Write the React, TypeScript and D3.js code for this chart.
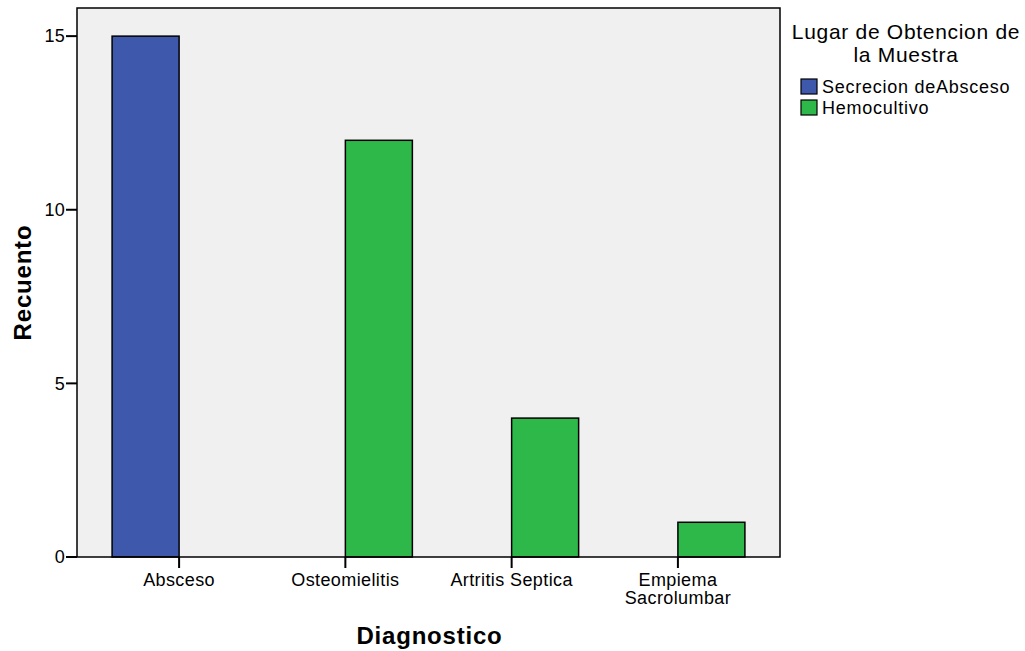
import React, { useEffect, useRef } from 'react';
import * as d3 from 'd3';

const categories = ['Absceso', 'Osteomielitis', 'Artritis Septica', 'Empiema Sacrolumbar'];
const series = ['Secrecion deAbsceso', 'Hemocultivo'];
const secrecionValues = [15, 0, 0, 0];
const hemocultivoValues = [0, 12, 4, 1];
const yTicks = [0, 5, 10, 15];
const colors = ['#3e58ac', '#2eb84a'];

const WIDTH = 1025;
const HEIGHT = 651;
const FONT = '"Liberation Sans", Arial, sans-serif';

const App: React.FC = () => {
  const svgRef = useRef<SVGSVGElement | null>(null);

  useEffect(() => {
    if (!svgRef.current) return;
    const svg = d3.select(svgRef.current);
    svg.selectAll('*').remove();

    const left = 77;
    const right = 780;
    const top = 8;
    const bottom = 557;

    const x = d3.scaleBand<string>().domain(categories).range([left, right]).paddingInner(0).paddingOuter(0.114);
    const y = d3.scaleLinear().domain([0, 15.81]).range([bottom, top]);
    const barWidth = 67;
    const sub = d3.scaleBand<string>().domain(series).range([-barWidth, barWidth]);

    svg.attr('width', WIDTH).attr('height', HEIGHT).attr('font-family', FONT);

    svg.append('rect')
      .attr('x', left).attr('y', top)
      .attr('width', right - left).attr('height', bottom - top)
      .attr('fill', '#f0f0f0');

    const valuesBySeries = [secrecionValues, hemocultivoValues];
    const bars = svg.append('g');
    series.forEach((s, si) => {
      categories.forEach((c, ci) => {
        const v = valuesBySeries[si][ci];
        if (v <= 0) return;
        const cx = (x(c) ?? 0) + x.bandwidth() / 2;
        bars.append('rect')
          .attr('x', cx + (sub(s) ?? 0))
          .attr('y', y(v))
          .attr('width', sub.bandwidth())
          .attr('height', y(0) - y(v))
          .attr('fill', colors[si])
          .attr('stroke', '#000')
          .attr('stroke-width', 1.5);
      });
    });

    svg.append('rect')
      .attr('x', left).attr('y', top)
      .attr('width', right - left).attr('height', bottom - top)
      .attr('fill', 'none')
      .attr('stroke', '#000')
      .attr('stroke-width', 1.5);

    // y axis
    const yAxis = svg.append('g');
    yTicks.forEach(t => {
      yAxis.append('line')
        .attr('x1', left - 11).attr('x2', left)
        .attr('y1', y(t)).attr('y2', y(t))
        .attr('stroke', '#000').attr('stroke-width', 2);
      yAxis.append('text')
        .attr('x', left - 12).attr('y', y(t))
        .attr('dy', '0.35em')
        .attr('text-anchor', 'end')
        .attr('font-size', 18)
        .attr('letter-spacing', 0.3)
        .text(t);
    });

    // x axis
    const xAxis = svg.append('g');
    categories.forEach(c => {
      const cx = (x(c) ?? 0) + x.bandwidth() / 2;
      xAxis.append('line')
        .attr('x1', cx).attr('x2', cx)
        .attr('y1', bottom).attr('y2', bottom + 11)
        .attr('stroke', '#000').attr('stroke-width', 2);
      const words = c === 'Empiema Sacrolumbar' ? ['Empiema', 'Sacrolumbar'] : [c];
      words.forEach((w, i) => {
        xAxis.append('text')
          .attr('x', cx).attr('y', 586 + i * 18)
          .attr('text-anchor', 'middle')
          .attr('font-size', 18)
          .attr('letter-spacing', 0.4)
          .text(w);
      });
    });

    svg.append('text')
      .attr('x', (left + right) / 2 + 1).attr('y', 644)
      .attr('text-anchor', 'middle')
      .attr('font-size', 24).attr('font-weight', 'bold')
      .attr('letter-spacing', 0.8)
      .text('Diagnostico');

    svg.append('text')
      .attr('transform', `translate(31,${(top + bottom) / 2}) rotate(-90)`)
      .attr('text-anchor', 'middle')
      .attr('font-size', 24).attr('font-weight', 'bold')
      .attr('letter-spacing', 0.8)
      .text('Recuento');

    // legend
    const legend = svg.append('g');
    legend.append('text')
      .attr('x', 906).attr('y', 39)
      .attr('text-anchor', 'middle').attr('font-size', 21)
      .attr('letter-spacing', 0.7)
      .text('Lugar de Obtencion de');
    legend.append('text')
      .attr('x', 906).attr('y', 62)
      .attr('text-anchor', 'middle').attr('font-size', 21)
      .attr('letter-spacing', 0.7)
      .text('la Muestra');
    series.forEach((s, i) => {
      const yy = 79 + i * 21;
      legend.append('rect')
        .attr('x', 801).attr('y', yy)
        .attr('width', 16).attr('height', 15)
        .attr('fill', colors[i])
        .attr('stroke', '#000').attr('stroke-width', 1.2);
      legend.append('text')
        .attr('x', 822).attr('y', yy + 14)
        .attr('font-size', 18)
        .attr('letter-spacing', 0.75)
        .text(s);
    });
  }, []);

  return <svg ref={svgRef} style={{ position: 'absolute', left: 0, top: 0 }} />;
};

export default App;
